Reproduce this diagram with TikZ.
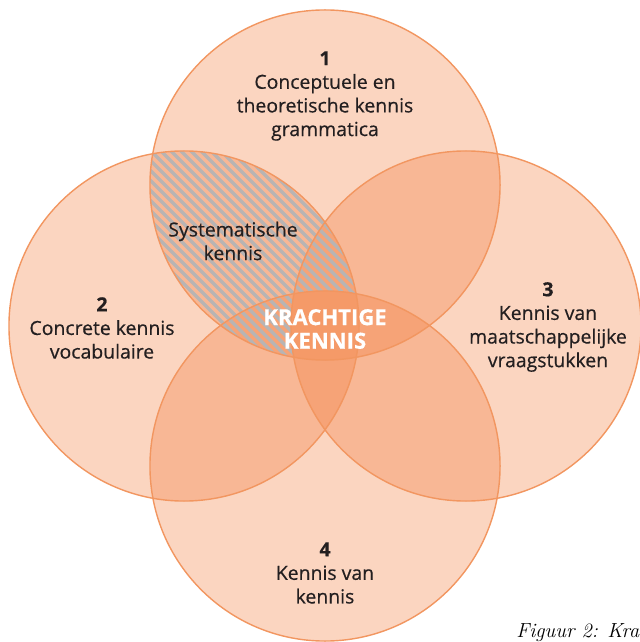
\documentclass[tikz,border=0pt]{standalone}
\usepackage{fontspec}
\setmainfont{Open Sans}[FakeBold=0.5]
\newfontfamily\captionfont{Latin Modern Roman}
\usetikzlibrary{positioning}

\definecolor{kennisorange}{HTML}{F17330}
\definecolor{kennisline}{HTML}{F29660}
\definecolor{kenniscore}{HTML}{F59A68}
\definecolor{stripegray}{HTML}{B8B4B3}
\definecolor{kennistext}{HTML}{231F20}

\begin{document}
\begin{tikzpicture}[
    x=0.025cm, y=-0.025cm,
    mycircle/.style={fill=kennisorange, fill opacity=0.3},
    myborder/.style={draw=kennisline, line width=1pt},
    mystripe/.style={stripegray, line width=2.4pt},
    mylabel/.style={align=center, text=kennistext, font=\fontsize{13.8}{16.8}\selectfont},
    mycore/.style={align=center, text=white, font=\fontsize{15.7}{16.8}\selectfont\bfseries}
]
    \useasboundingbox (0, 0) rectangle (639, 642);

    % Centres of the four circles
    \coordinate (top)    at (325, 185);
    \coordinate (left)   at (184, 326);
    \coordinate (right)  at (466, 326);
    \coordinate (bottom) at (325, 466);
    \def\R{4.375cm}

    % Circle fills
    \foreach \c in {top, left, right, bottom} {
        \fill[mycircle] (\c) circle (\R);
    }

    % Hatched lens (systematische kennis)
    \begin{scope}
        \clip (top) circle (\R);
        \clip (left) circle (\R);
        \foreach \i in {-400, -390, ..., 500} {
            \draw[mystripe] (\i, 0) -- ++(600, 600);
        }
    \end{scope}

    % Core where all four meet
    \begin{scope}
        \clip (top) circle (\R);
        \clip (left) circle (\R);
        \clip (right) circle (\R);
        \fill[kenniscore] (bottom) circle (\R);
    \end{scope}

    % Circle borders
    \foreach \c in {top, left, right, bottom} {
        \draw[myborder] (\c) circle (\R);
    }

    % Labels
    \node[mylabel] (conceptueel) at (325, 96)
        {\textbf{1}\\Conceptuele en\\theoretische kennis\\grammatica};
    \node[mylabel] (concreet) at (102, 328)
        {\textbf{2}\\Concrete kennis\\vocabulaire};
    \node[mylabel] (maatschappij) at (548, 327)
        {\textbf{3}\\Kennis van\\maatschappelijke\\vraagstukken};
    \node[mylabel] (metakennis) at (325, 573)
        {\textbf{4}\\Kennis van\\kennis};
    \node[mylabel] (systematisch) at (233, 241)
        {Systematische\\kennis};
    \node[mycore] (krachtig) at (325, 329)
        {KRACHTIGE\\KENNIS};

    \node[anchor=base west, inner sep=0pt, font=\captionfont\itshape\fontsize{14.5}{17}\selectfont]
        (caption) at (516, 637) {Figuur 2: Kra};
\end{tikzpicture}
\end{document}
